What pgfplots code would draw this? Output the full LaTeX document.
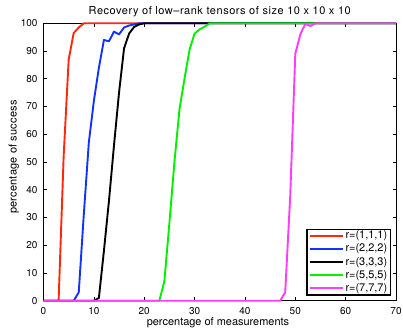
\documentclass[border=0pt]{standalone}
\usepackage{fontspec}
\setmainfont{TeX Gyre Heros}
\newfontfamily\titlefont{TeX Gyre Heros}[LetterSpace=5]
\newfontfamily\labfont{TeX Gyre Heros}[LetterSpace=2]
\usepackage{pgfplots}
\pgfplotsset{compat=1.18}
\definecolor{mred}{RGB}{255,40,10}
\definecolor{mblue}{RGB}{20,50,255}
\definecolor{mgreen}{RGB}{0,240,0}
\definecolor{mmag}{RGB}{255,60,255}
\begin{document}
\begin{tikzpicture}
\begin{axis}[
  scale only axis,
  width=352.5bp, height=277.4bp,
  xmin=0, xmax=70, ymin=0, ymax=100,
  xtick={0,10,...,70}, ytick={0,10,...,100},
  tick align=inside,
  major tick length=3.5bp,
  tick style={black, line width=0.6pt},
  axis line style={line width=0.7pt},
  /pgf/number format/assume math mode=true,
  tick label style={font=\fontsize{10}{11}\selectfont},
  xticklabel style={yshift=-3bp},
  yticklabel style={xshift=-2.5bp},
  xlabel={percentage of measurements},
  ylabel={percentage of success},
  xlabel style={font=\fontsize{11}{12}\selectfont, at={(axis description cs:0.495,-0.0901)}, anchor=base, inner sep=0pt},
  ylabel style={font=\labfont\fontsize{11}{12}\selectfont, at={(axis description cs:-0.0765,0.518)}, anchor=base, inner sep=0pt},
  every axis title shift=0pt,
  title={Recovery of low–rank tensors of size 10 x 10 x 10},
  title style={font=\titlefont\fontsize{11}{12}\selectfont, at={(axis description cs:0.5,1.030)}, anchor=base, inner sep=0pt},
  clip=false,
  legend cell align=left,
  legend style={at={(axis cs:69.1,1.8)}, anchor=south east,
    font=\fontsize{11}{12}\selectfont, draw=black, line width=1.5pt,
    inner xsep=2bp, inner ysep=0bp, row sep=0bp, column sep=0bp,
    nodes={inner xsep=1.5bp, inner ysep=1.4bp, text height=8bp, text depth=2.3bp}},
  legend image code/.code={\draw[#1, line width=2bp] plot coordinates {(0bp,0bp) (16.5bp,0bp) (33bp,0bp)};},
  every axis plot/.append style={line width=1.9bp, line join=round},
]
\addplot[mred] coordinates {(0,0) (1,0) (2,0) (3,0) (4,52) (5,87) (6,96.5) (7,98.5) (8,100) (70,100)};
\addlegendentry{r=(1,1,1)}
\addplot[mblue] coordinates {(0,0) (5,0) (6,0) (7,3) (8,31) (9,57) (10,72) (11,84) (12,94) (13,93.5) (14,97) (15,96) (16,98.5) (17,99.2) (18,99.6) (19,100) (70,100)};
\addlegendentry{r=(2,2,2)}
\addplot[black] coordinates {(0,0) (10,0) (11,1) (12,18) (13,36) (14,56) (15,75) (16,91) (17,96.3) (18,98.7) (19,99.6) (20,100) (70,100)};
\addlegendentry{r=(3,3,3)}
\addplot[mgreen] coordinates {(0,0) (23,0) (24,7) (25,28) (26,50) (27,69) (28,80) (29,90.5) (30,96.3) (31,97.8) (32,98.8) (33,100) (70,100)};
\addlegendentry{r=(5,5,5)}
\addplot[mmag] coordinates {(0,0) (47,0) (48,3) (49,38) (50,89) (51,96) (52,99.8) (53,99) (54,100) (70,100)};
\addlegendentry{r=(7,7,7)}
\end{axis}
\pgfresetboundingbox
\path ([shift={(-43.5bp,-27.3bp)}]current axis.south west) rectangle ([shift={(7bp,23.3bp)}]current axis.north east);
\end{tikzpicture}
\end{document}
